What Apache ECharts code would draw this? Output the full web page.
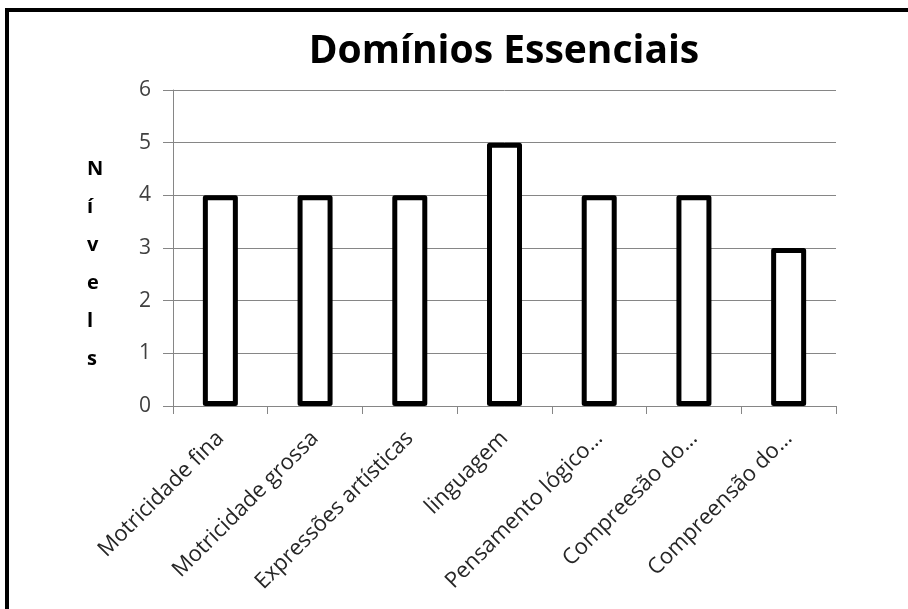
<!DOCTYPE html>
<html>
<head>
<meta charset="utf-8">
<script src="https://cdn.jsdelivr.net/npm/echarts@6/dist/echarts.min.js"></script>
<style>
  html, body { margin: 0; padding: 0; background: #fff; }
  #chart { width: 908px; height: 609px; }
</style>
</head>
<body>
<div id="chart"></div>
<script>
// dados do gráfico
const categories = [
  'Motricidade fina',
  'Motricidade grossa',
  'Expressões artísticas',
  'linguagem',
  'Pensamento lógico…',
  'Compreesão do…',
  'Compreensão do…'
];
const values = [4, 4, 4, 5, 4, 4, 3];
const yTicks = [0, 1, 2, 3, 4, 5, 6];
const axisName = 'Nívels';

const chart = echarts.init(document.getElementById('chart'));

const option = {
  backgroundColor: '#fff',
  animation: false,
  title: {
    text: 'Domínios Essenciais',
    left: 499,
    textAlign: 'center',
    top: 27,
    textStyle: {
      fontFamily: 'Open Sans',
      fontWeight: 'bold',
      fontSize: 39,
      color: '#000'
    }
  },
  grid: {
    left: 173,
    right: 72,
    top: 90,
    bottom: 203
  },
  xAxis: {
    type: 'category',
    data: categories,
    axisLine: { lineStyle: { color: '#868686', width: 1 } },
    axisTick: { show: true, length: 8, lineStyle: { color: '#868686' } },
    axisLabel: {
      rotate: 45,
      interval: 0,
      margin: 29,
      fontFamily: 'Open Sans',
      fontSize: 22,
      color: '#262626'
    }
  },
  yAxis: {
    type: 'value',
    min: yTicks[0],
    max: yTicks[yTicks.length - 1],
    interval: 1,
    axisLine: { show: true, lineStyle: { color: '#868686', width: 1 } },
    axisTick: { show: true, length: 10, lineStyle: { color: '#868686' } },
    splitLine: { lineStyle: { color: '#868686', width: 1 } },
    axisLabel: {
      margin: 22,
      fontFamily: 'Open Sans',
      fontSize: 21,
      color: '#404040'
    }
  },
  series: [
    {
      type: 'bar',
      data: values,
      barWidth: 35,
      itemStyle: {
        color: '#fff',
        borderColor: '#000',
        borderWidth: 5,
        borderJoin: 'round'
      }
    }
  ],
  graphic: [
    {
      type: 'polyline',
      shape: { points: [[7, 609], [7, 10], [908, 10]] },
      style: { stroke: '#000', lineWidth: 4, fill: null }
    },
    {
      type: 'text',
      left: 87,
      top: 150,
      style: {
        text: axisName.split('').join('\n'),
        fontFamily: 'Open Sans',
        fontWeight: 'bold',
        fontSize: 20,
        lineHeight: 38,
        align: 'center',
        fill: '#000'
      }
    }
  ]
};

chart.setOption(option);
</script>
</body>
</html>
